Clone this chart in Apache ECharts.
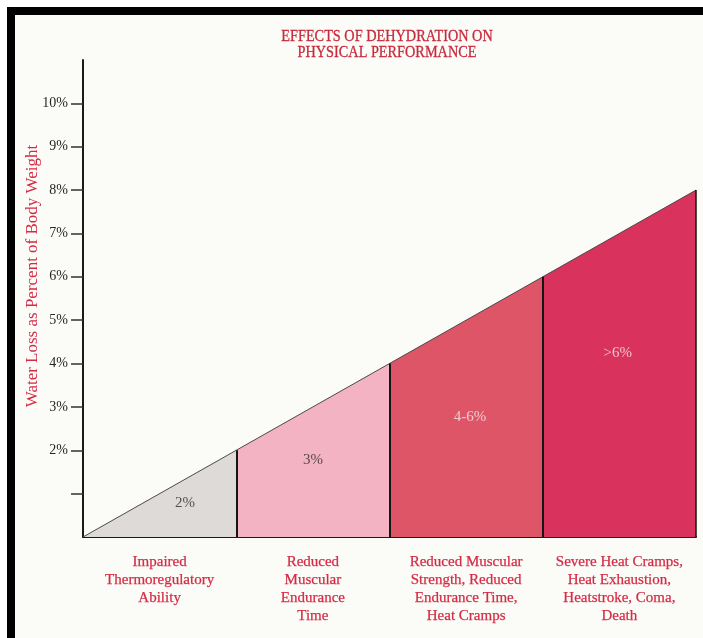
<!DOCTYPE html>
<html>
<head>
<meta charset="utf-8">
<script src="https://cdn.jsdelivr.net/npm/echarts@6/dist/echarts.min.js"></script>
<style>
html,body{margin:0;padding:0;background:#ffffff;}
#chart{width:703px;height:638px;}
</style>
</head>
<body>
<div id="chart"></div>
<script>
// ---- data ----
const segmentEdges = [0, 2, 4, 6, 8];          // water loss (% body weight) at segment edges
const waterLoss = [0, 2, 4, 6, 8];             // height of the curve at each edge
const rangeLabels = ['2%', '3%', '4-6%', '>6%'];
const effects = [
  'Impaired\nThermoregulatory\nAbility',
  'Reduced\nMuscular\nEndurance\nTime',
  'Reduced Muscular\nStrength, Reduced\nEndurance Time,\nHeat Cramps',
  'Severe Heat Cramps,\nHeat Exhaustion,\nHeatstroke, Coma,\nDeath'
];
const yTickValues = [1, 2, 3, 4, 5, 6, 7, 8, 9, 10];
const yLabelValues = [2, 3, 4, 5, 6, 7, 8, 9, 10];
const titleText = 'EFFECTS OF DEHYDRATION ON\nPHYSICAL PERFORMANCE';
const yAxisTitle = 'Water Loss as Percent of Body Weight';

// ---- styles ----
const fills = ['#dddad8', '#f4b3c3', '#df5568', '#d9325c'];
const labelColors = ['#2e2e2e', '#2e2e2e', '#f8e6ea', '#f8e6ea'];
// label anchors inside each band (data units)
const labelAnchors = [[1.33, 0.78], [3.0, 1.78], [5.05, 2.77], [6.98, 4.24]];
const serif = '"Liberation Serif", "DejaVu Serif", serif';
const red = '#d42c45';

const chart = echarts.init(document.getElementById('chart'));

const series = [];
for (let i = 0; i < rangeLabels.length; i++) {
  const edgeLines = [
    [{ coord: [segmentEdges[i + 1], 0] }, { coord: [segmentEdges[i + 1], waterLoss[i + 1]] }]
  ];
  series.push({
    type: 'line',
    data: [[segmentEdges[i], waterLoss[i]], [segmentEdges[i + 1], waterLoss[i + 1]]],
    symbol: 'none',
    silent: true,
    lineStyle: { color: '#4a4a4a', width: 1 },
    areaStyle: { color: fills[i], opacity: 1 },
    z: 2,
    markLine: {
      silent: true,
      symbol: 'none',
      label: { show: false },
      lineStyle: { color: '#151515', width: i === rangeLabels.length - 1 ? 1.5 : 2, type: 'solid' },
      data: edgeLines
    }
  });
}
series.push({
  type: 'scatter',
  symbolSize: 0,
  silent: true,
  z: 5,
  data: rangeLabels.map((t, i) => ({
    value: labelAnchors[i],
    label: {
      show: true,
      position: 'inside',
      formatter: t,
      color: labelColors[i],
      fontFamily: serif,
      fontSize: 15
    }
  }))
});

chart.setOption({
  backgroundColor: '#fbfbf8',
  animation: false,
  grid: { left: 83, right: 7, top: 60, bottom: 101, containLabel: false },
  xAxis: {
    type: 'value',
    min: 0,
    max: 8,
    axisLine: { show: true, lineStyle: { color: '#1a1a1a', width: 2 } },
    axisTick: { show: false },
    splitLine: { show: false },
    axisLabel: {
      customValues: [1, 3, 5, 7],
      formatter: v => effects[Math.round((v - 1) / 2)],
      color: red,
      textBorderColor: red,
      textBorderWidth: 0.25,
      fontFamily: serif,
      fontSize: 15,
      lineHeight: 18,
      margin: 16
    }
  },
  yAxis: {
    type: 'value',
    min: 0,
    max: 11,
    interval: 1,
    axisLine: { show: true, lineStyle: { color: '#1a1a1a', width: 2 } },
    axisTick: { show: true, customValues: yTickValues, length: 12, lineStyle: { color: '#333', width: 1.5 } },
    splitLine: { show: false },
    axisLabel: {
      customValues: yLabelValues,
      formatter: '{value}%',
      color: '#262626',
      fontFamily: serif,
      fontSize: 14,
      margin: 15
    }
  },
  graphic: [
    { type: 'rect', shape: { x: 0, y: 0, width: 703, height: 7 }, style: { fill: '#ffffff' }, z: 10 },
    { type: 'rect', shape: { x: 0, y: 0, width: 7, height: 638 }, style: { fill: '#ffffff' }, z: 10 },
    { type: 'rect', shape: { x: 7, y: 7, width: 696, height: 8 }, style: { fill: '#000000' }, z: 11 },
    { type: 'rect', shape: { x: 7, y: 7, width: 8, height: 631 }, style: { fill: '#000000' }, z: 11 },
    {
      type: 'text', x: 387, y: 45, scaleX: 0.84, z: 12,
      style: { text: titleText, fill: '#c62a3c', stroke: '#c62a3c', lineWidth: 0.3, font: '17px ' + serif, align: 'center', verticalAlign: 'middle', lineHeight: 16 }
    },
    {
      type: 'text', x: 33, y: 276, rotation: Math.PI / 2, z: 12,
      style: { text: yAxisTitle, fill: red, font: '17px ' + serif, align: 'center', verticalAlign: 'middle' }
    }
  ],
  series: series
});
</script>
</body>
</html>
